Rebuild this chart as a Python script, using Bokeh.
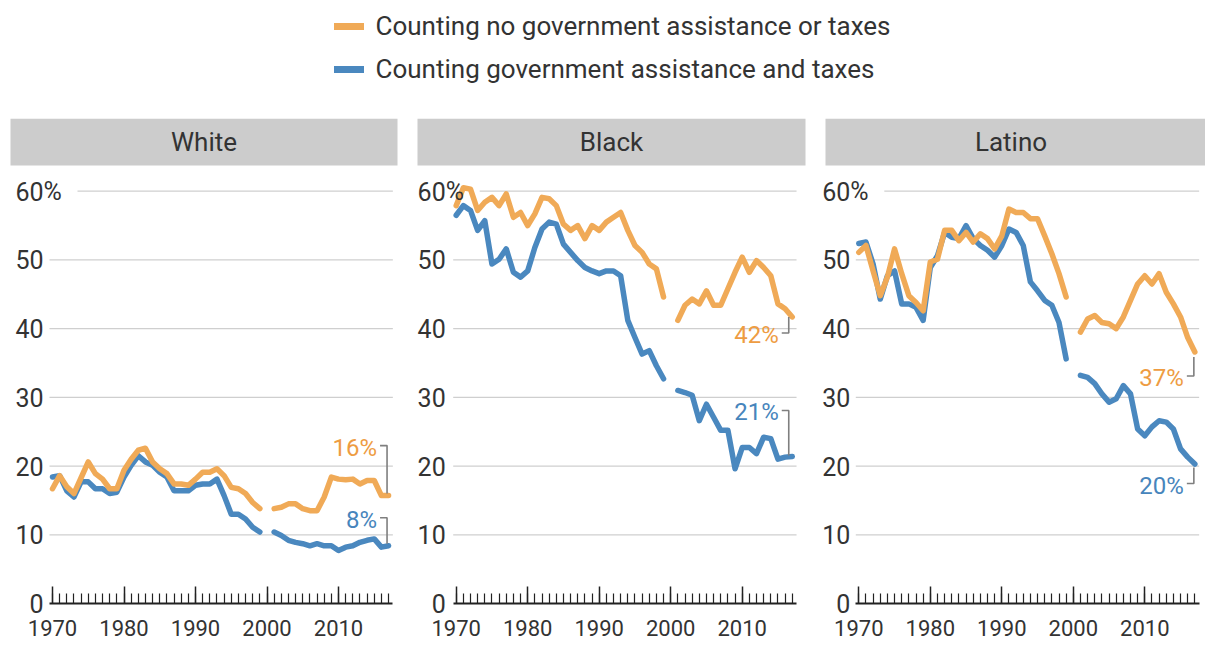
import math
from bokeh.plotting import figure
from bokeh.models import (ColumnDataSource, FixedTicker, BoxAnnotation, Label,
                          LabelSet, Legend, LegendItem, Range1d)
from bokeh.layouts import column, row
from bokeh.embed import file_html
from bokeh.resources import INLINE
from bokeh.core.properties import value

nan = float("nan")

# ---------------- data ----------------
years = list(range(1970, 2018))   # 2000 is a break in the series (nan)

white_no_gov = [16.7, 18.6, 17.0, 16.0, 18.3, 20.6, 18.9, 18.1, 16.7, 16.7,
                19.4, 21.0, 22.3, 22.6, 20.6, 19.6, 18.9, 17.4, 17.4, 17.2,
                18.1, 19.1, 19.1, 19.6, 18.6, 16.9, 16.7, 16.0, 14.7, 13.8,
                nan,
                13.8, 14.0, 14.5, 14.5, 13.8, 13.5, 13.5, 15.5, 18.4, 18.1,
                18.0, 18.1, 17.4, 17.9, 17.9, 15.7, 15.7]
white_gov = [18.4, 18.6, 16.4, 15.5, 17.7, 17.7, 16.7, 16.7, 16.0, 16.2,
             18.4, 20.1, 21.5, 20.6, 20.1, 19.1, 18.4, 16.4, 16.4, 16.4,
             17.2, 17.4, 17.4, 18.1, 15.7, 13.0, 13.0, 12.3, 11.1, 10.4,
             nan,
             10.4, 9.9, 9.2, 8.9, 8.7, 8.4, 8.7, 8.4, 8.4, 7.7,
             8.2, 8.4, 8.9, 9.2, 9.4, 8.2, 8.4]

black_no_gov = [57.9, 60.5, 60.3, 57.2, 58.4, 59.1, 57.9, 59.6, 56.2, 56.9,
                55.0, 56.7, 59.1, 58.9, 57.9, 55.2, 54.3, 55.0, 53.1, 55.0,
                54.3, 55.5, 56.2, 56.9, 54.3, 52.1, 51.1, 49.4, 48.7, 44.6,
                nan,
                41.2, 43.4, 44.3, 43.6, 45.5, 43.4, 43.4, 45.8, 48.2, 50.4,
                48.2, 49.9, 48.9, 47.7, 43.6, 42.9, 41.7]
black_gov = [56.5, 57.9, 57.2, 54.3, 55.7, 49.4, 50.1, 51.6, 48.2, 47.5,
             48.4, 51.8, 54.5, 55.5, 55.2, 52.3, 51.1, 49.9, 48.9, 48.4,
             48.0, 48.4, 48.4, 47.7, 41.2, 38.7, 36.3, 36.8, 34.6, 32.7,
             nan,
             31.0, 30.7, 30.3, 26.6, 29.0, 27.1, 25.2, 25.2, 19.6, 22.7,
             22.7, 21.8, 24.2, 24.0, 21.0, 21.3, 21.4]

latino_no_gov = [51.1, 52.1, 48.4, 44.8, 47.5, 51.6, 48.0, 44.8, 43.8, 42.6,
                 49.7, 50.1, 54.3, 54.3, 52.8, 54.0, 52.6, 53.8, 53.1, 51.6,
                 53.5, 57.4, 56.9, 56.9, 56.0, 56.0, 53.5, 50.9, 48.0, 44.6,
                 nan,
                 39.5, 41.4, 41.9, 40.9, 40.7, 40.0, 41.7, 44.1, 46.5, 47.7,
                 46.5, 48.0, 45.3, 43.6, 41.7, 38.7, 36.6]
latino_gov = [52.4, 52.6, 49.4, 44.3, 47.7, 48.4, 43.6, 43.6, 43.1, 41.2,
              48.9, 50.6, 54.0, 53.3, 53.1, 55.0, 53.1, 52.1, 51.4, 50.4,
              52.1, 54.5, 54.0, 52.1, 46.8, 45.5, 44.1, 43.4, 40.9, 35.6,
              nan,
              33.2, 32.9, 32.0, 30.5, 29.3, 29.8, 31.7, 30.5, 25.4, 24.4,
              25.7, 26.6, 26.4, 25.4, 22.5, 21.3, 20.3]

panel_titles = ["White", "Black", "Latino"]
end_labels_no_gov = ["16%", "42%", "37%"]
end_labels_gov = ["8%", "21%", "20%"]

y_ticks = [0, 10, 20, 30, 40, 50, 60]
y_tick_labels = ["0", "10", "20", "30", "40", "50", "60"]
x_major_ticks = [1970, 1980, 1990, 2000, 2010]

legend_labels = ["Counting no government assistance or taxes",
                 "Counting government assistance and taxes"]

# ---------------- style ----------------
ORANGE = "#F0AA57"
BLUE = "#4A88BF"
ORANGE_TXT = "#EE9C42"
BLUE_TXT = "#4785BC"
TXT = "#333333"
GRID = "#cfcfcf"
STRIP = "#cccccc"
BRACKET = "#7f7f7f"
FONT = "Roboto"

PPY = 7.15            # pixels per year
LEG_H = 118
PANEL_H = 526
Y0_PAGE = 603         # page y of value 0
SY = (Y0_PAGE - 190.7) / 60.0
Y_END = (Y0_PAGE - LEG_H) / SY
Y_START = -(LEG_H + PANEL_H - Y0_PAGE) / SY


def py(page_y):
    return (Y0_PAGE - page_y) / SY


# per-panel layout (page pixels)
panels_cfg = [
    dict(left=0, width=412, x1970=52.0, s0=10, s1=397, gap=9.0,
         o=(2, 50), b=(2, 28), xoff=1.5),
    dict(left=412, width=408, x1970=455.7, s0=417, s1=805, gap=10.5,
         o=(0, -16), b=(1, 46), xoff=3.5),
    dict(left=820, width=385, x1970=858.3, s0=825, s1=1205, gap=8.5,
         o=(-5, -24), b=(-3.5, -19.5), xoff=1.0),
]
series = [(white_no_gov, white_gov), (black_no_gov, black_gov),
          (latino_no_gov, latino_gov)]

figs = []
for i, cfg in enumerate(panels_cfg):
    def px(page_x, cfg=cfg):
        return 1970 + (page_x - cfg["x1970"]) / PPY

    xs = px(cfg["left"])
    xe = px(cfg["left"] + cfg["width"])
    p = figure(width=cfg["width"], height=PANEL_H,
               x_range=Range1d(xs, xe), y_range=Range1d(Y_START, Y_END),
               output_backend="svg", toolbar_location=None,
               y_axis_location=None,
               min_border_left=0, min_border_right=0, min_border_top=0,
               min_border_bottom=0)
    p.outline_line_color = None
    p.grid.visible = False
    p.background_fill_color = "white"
    p.border_fill_color = "white"

    axis_start = 1970 - 3.0 / PPY
    axis_end = 2017.6

    # gridlines
    gx0, gx1, gy = [], [], []
    lab_x = 1970 - cfg["gap"] / PPY
    for t in y_ticks[1:]:
        gy.append(t)
        gx1.append(axis_end)
        if t == 60:
            gx0.append(lab_x + 34 / PPY)
        else:
            gx0.append(axis_start)
    p.segment(x0=gx0, y0=gy, x1=gx1, y1=gy, line_color=GRID, line_width=1.3)

    # header strip
    s1_vis = min(cfg["s1"], 1196)
    p.add_layout(BoxAnnotation(left=px(cfg["s0"]), right=px(cfg["s1"]),
                               bottom=py(165), top=Y_END,
                               fill_color=STRIP, fill_alpha=1.0,
                               line_color=None, level="underlay"))
    p.add_layout(Label(x=px((cfg["s0"] + s1_vis) / 2), y=py(141),
                       text=panel_titles[i],
                       text_align="center", text_baseline="middle",
                       text_font=FONT, text_font_size="26px",
                       text_color=TXT))

    # y tick labels
    src = ColumnDataSource(dict(x=[lab_x] * len(y_ticks), y=y_ticks,
                                t=y_tick_labels))
    p.add_layout(LabelSet(x="x", y="y", text="t", source=src,
                          text_align="right", text_baseline="middle",
                          text_font=value(FONT), text_font_size="25px",
                          text_color=TXT))
    p.add_layout(Label(x=lab_x, y=60, text="%", text_align="left",
                       text_baseline="middle", text_font=FONT,
                       text_font_size="25px", text_color=TXT))

    # lines
    no_gov, gov = series[i]
    p.line(years, gov, line_color=BLUE, line_width=5.5,
           line_cap="round", line_join="round")
    p.line(years, no_gov, line_color=ORANGE, line_width=5.5,
           line_cap="round", line_join="round")

    # end brackets & labels
    bx = 2017 - cfg["xoff"] / PPY
    for vals, (s_px, e_px), txt, col in (
            (no_gov, cfg["o"], end_labels_no_gov[i], ORANGE_TXT),
            (gov, cfg["b"], end_labels_gov[i], BLUE_TXT)):
        v = vals[-1]
        y_s = v + s_px / SY
        y_e = v + e_px / SY
        p.line([bx, bx, bx - 7 / PPY], [y_s, y_e, y_e],
               line_color=BRACKET, line_width=1.6)
        p.add_layout(Label(x=bx - 10 / PPY, y=y_e - 2 / SY, text=txt,
                           text_align="right", text_baseline="middle",
                           text_font=FONT, text_font_size="24px",
                           text_color=col))

    # x axis drawn at value 0
    ax = p.xaxis[0]
    ax.fixed_location = 0
    ax.ticker = FixedTicker(ticks=x_major_ticks, minor_ticks=years)
    ax.bounds = (axis_start, axis_end)
    ax.axis_line_color = "#222222"
    ax.axis_line_width = 2
    ax.major_tick_line_color = "#222222"
    ax.major_tick_line_width = 1.5
    ax.major_tick_in = 17
    ax.major_tick_out = 0
    ax.minor_tick_line_color = "#222222"
    ax.minor_tick_line_width = 1.2
    ax.minor_tick_in = 10
    ax.minor_tick_out = 0
    ax.major_label_text_font = FONT
    ax.major_label_text_font_size = "22px"
    ax.major_label_text_color = TXT
    ax.major_label_standoff = 16
    figs.append(p)

# ---------------- legend strip ----------------
lf = figure(width=1205, height=LEG_H, x_range=Range1d(0, 1),
            y_range=Range1d(0, 1), output_backend="svg",
            toolbar_location=None, x_axis_location=None,
            y_axis_location=None, min_border=0)
lf.outline_line_color = None
lf.grid.visible = False
# legend keys: real series drawn outside this strip's visible range
r1 = lf.line(years, white_no_gov, line_color=ORANGE, line_width=7,
             line_cap="round")
r2 = lf.line(years, white_gov, line_color=BLUE, line_width=7,
             line_cap="round")
leg = Legend(items=[LegendItem(label=legend_labels[0], renderers=[r1]),
                    LegendItem(label=legend_labels[1], renderers=[r2])],
             location=(333.5, 34.3), orientation="vertical", padding=0,
             margin=0, spacing=13, glyph_width=30, glyph_height=30,
             label_height=30, label_standoff=12,
             label_text_font=FONT, label_text_font_size="26px",
             label_text_color=TXT, border_line_color=None,
             background_fill_alpha=0)
lf.add_layout(leg)

layout = column(lf, row(*figs))
open("out.html", "w").write(file_html(layout, INLINE))
